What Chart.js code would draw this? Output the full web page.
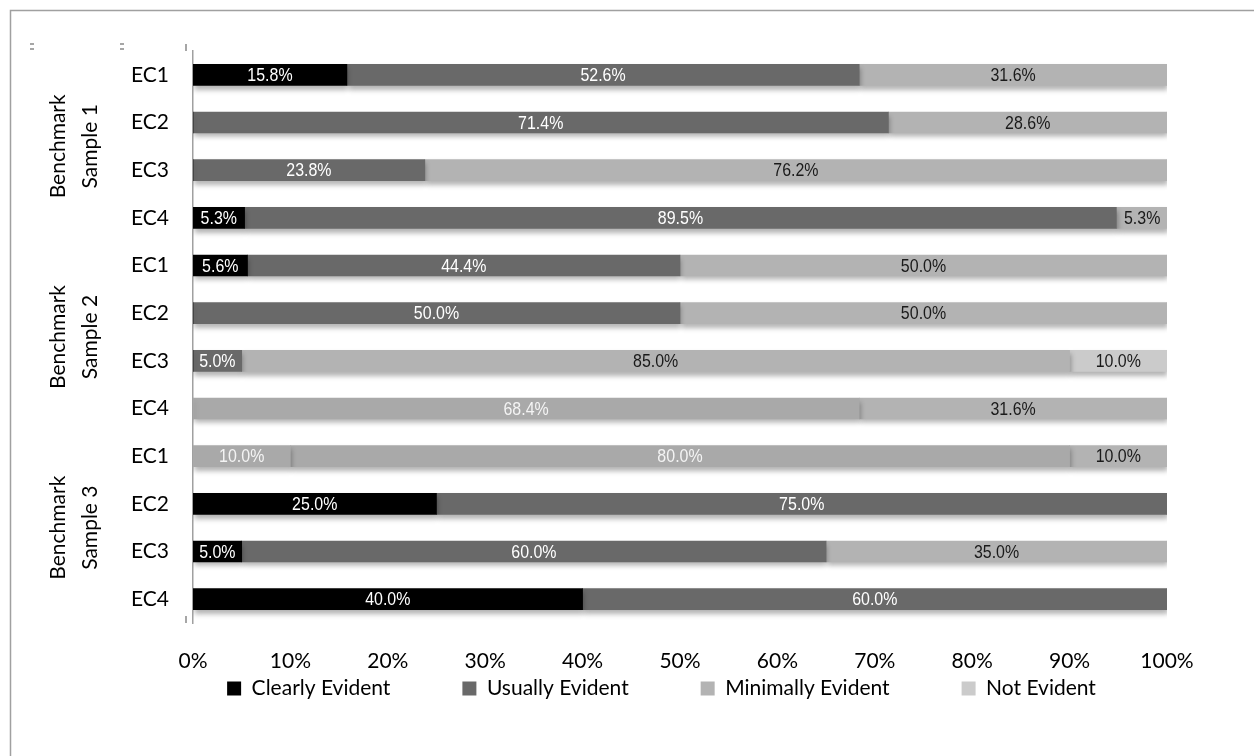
<!DOCTYPE html>
<html>
<head>
    <meta charset="UTF-8">
    <script src="https://cdn.jsdelivr.net/npm/chart.js"></script>
    <style>
        body { margin: 0; background: #fff; }
        #wrap { width: 1254px; height: 756px; }
    </style>
</head>
<body>
<div id="wrap"><canvas id="benchChart" width="1254" height="756"></canvas></div>

<script>
    // rows top to bottom
    const rowLabels = ['EC1', 'EC2', 'EC3', 'EC4', 'EC1', 'EC2', 'EC3', 'EC4', 'EC1', 'EC2', 'EC3', 'EC4'];
    const groups = ['Benchmark Sample 1', 'Benchmark Sample 2', 'Benchmark Sample 3'];
    const seriesNames = ['Clearly Evident', 'Usually Evident', 'Minimally Evident', 'Not Evident'];

    const clearly   = [15.8, 0, 0, 5.3, 5.6, 0, 0, 0, 10.0, 25.0, 5.0, 40.0];
    const usually   = [52.6, 71.4, 23.8, 89.5, 44.4, 50.0, 5.0, 68.4, 80.0, 75.0, 60.0, 60.0];
    const minimally = [31.6, 28.6, 76.2, 5.3, 50.0, 50.0, 85.0, 31.6, 10.0, 0, 35.0, 0];
    const notEv     = [0, 0, 0, 0, 0, 0, 10.0, 0, 0, 0, 0, 0];

    const xTicks = [0, 10, 20, 30, 40, 50, 60, 70, 80, 90, 100];

    // rows that came out washed-out grey in the original picture
    const fadedRows = [7, 8];

    const colors = ['#000000', '#696969', '#b3b3b3', '#cbcbcb'];
    const labelColors = ['#ffffff', '#ffffff', '#1a1a1a', '#1a1a1a'];

    function makeSet(name, values, i) {
        return {
            label: name,
            data: values,
            backgroundColor: ctx => {
                if (ctx.dataIndex !== undefined && fadedRows.includes(ctx.dataIndex) && i < 2) return '#a9a9a9';
                return colors[i];
            },
            borderWidth: 0,
            barThickness: 21
        };
    }

    const shadowPlugin = {
        id: 'shadow',
        beforeDatasetsDraw(chart) {
            const c = chart.ctx;
            c.save();
            c.shadowColor = 'rgba(0,0,0,0.30)';
            c.shadowBlur = 5;
            c.shadowOffsetX = 1;
            c.shadowOffsetY = 4;
        },
        afterDatasetsDraw(chart) {
            chart.ctx.restore();
        }
    };

    const valueLabels = {
        id: 'valueLabels',
        afterDatasetsDraw(chart) {
            const c = chart.ctx;
            c.save();
            c.font = '19px "Liberation Sans", Arial, sans-serif';
            c.textAlign = 'center';
            c.textBaseline = 'middle';
            chart.data.datasets.forEach((ds, i) => {
                const meta = chart.getDatasetMeta(i);
                meta.data.forEach((bar, j) => {
                    const v = ds.data[j];
                    if (!v) return;
                    const left = Math.min(bar.x, bar.base);
                    const right = Math.max(bar.x, bar.base);
                    c.fillStyle = labelColors[i];
                    if (fadedRows.includes(j) && i < 2) c.fillStyle = '#f4f4f4';
                    // squeeze sideways, the original used a narrow face
                    c.save();
                    c.translate((left + right) / 2, bar.y + 1);
                    c.scale(0.84, 1);
                    c.fillText(v.toFixed(1) + '%', 0, 0);
                    c.restore();
                });
            });
            c.restore();
        }
    };

    // legend: keep the wide item spacing but put it where the original has it
    // (box top moved up, bottom left alone so the legend clip still covers the items)
    const legendPlace = {
        id: 'legendPlace',
        afterLayout(chart) {
            const lg = chart.legend;
            if (!lg) return;
            lg.top -= 77;
            lg.left += 78;
            lg.right += 78;
        }
    };

    const groupLabels = {
        id: 'groupLabels',
        afterDraw(chart) {
            const c = chart.ctx;
            const y = chart.scales.y;
            c.save();
            c.font = '21px Lato, "Open Sans", sans-serif';
            c.fillStyle = '#000';
            c.textAlign = 'center';
            c.textBaseline = 'middle';
            groups.forEach((g, k) => {
                const mid = (y.getPixelForValue(k * 4) + y.getPixelForValue(k * 4 + 3)) / 2;
                const parts = [g.split(' ')[0], g.split(' ').slice(1).join(' ')];
                c.save();
                c.translate(58, mid);
                c.rotate(-Math.PI / 2);
                c.fillText(parts[0], 0, 0);
                c.restore();
                c.save();
                c.translate(90, mid);
                c.rotate(-Math.PI / 2);
                c.fillText(parts[1], 0, 0);
                c.restore();
            });
            // leftover tick marks of the outer axis
            c.fillStyle = '#a6a6a6';
            [30, 120].forEach(x => {
                c.fillRect(x, 43, 4, 2);
                c.fillRect(x, 48, 4, 2);
            });
            c.fillRect(185, 44, 2, 7);
            c.fillRect(185, y.bottom - 7, 2, 7);
            // outer frame
            c.strokeStyle = '#a0a0a0';
            c.lineWidth = 1.5;
            c.strokeRect(10.5, 10.5, 1400, 900);
            c.restore();
        }
    };

    new Chart(document.getElementById('benchChart'), {
        type: 'bar',
        data: {
            labels: rowLabels,
            datasets: [
                makeSet(seriesNames[0], clearly, 0),
                makeSet(seriesNames[1], usually, 1),
                makeSet(seriesNames[2], minimally, 2),
                makeSet(seriesNames[3], notEv, 3)
            ]
        },
        options: {
            indexAxis: 'y',
            responsive: false,
            animation: false,
            layout: { padding: { top: 51, right: 87, left: 0, bottom: 13 } },
            scales: {
                x: {
                    stacked: true,
                    min: 0,
                    max: 100,
                    grid: { display: false, drawTicks: false },
                    border: { display: false },
                    afterBuildTicks: s => { s.ticks = xTicks.map(v => ({ value: v })); },
                    ticks: {
                        callback: v => v + '%',
                        font: { family: 'Lato', size: 21 },
                        color: '#000',
                        padding: 26,
                        maxRotation: 0
                    },
                    afterFit: s => { s.height = 60; }
                },
                y: {
                    stacked: true,
                    grid: { display: false, drawTicks: false },
                    border: { display: true, color: '#a0a0a0', width: 1.5 },
                    ticks: {
                        font: { family: 'Lato', size: 21 },
                        color: '#000',
                        padding: 24
                    },
                    afterFit: s => { s.width = 193; }
                }
            },
            plugins: {
                legend: {
                    position: 'bottom',
                    maxHeight: 60,
                    labels: {
                        boxWidth: 14,
                        boxHeight: 14,
                        padding: 72,
                        color: '#000',
                        font: { family: 'Lato', size: 21 }
                    }
                },
                tooltip: { enabled: false }
            }
        },
        plugins: [shadowPlugin, valueLabels, legendPlace, groupLabels]
    });
</script>
</body>
</html>
